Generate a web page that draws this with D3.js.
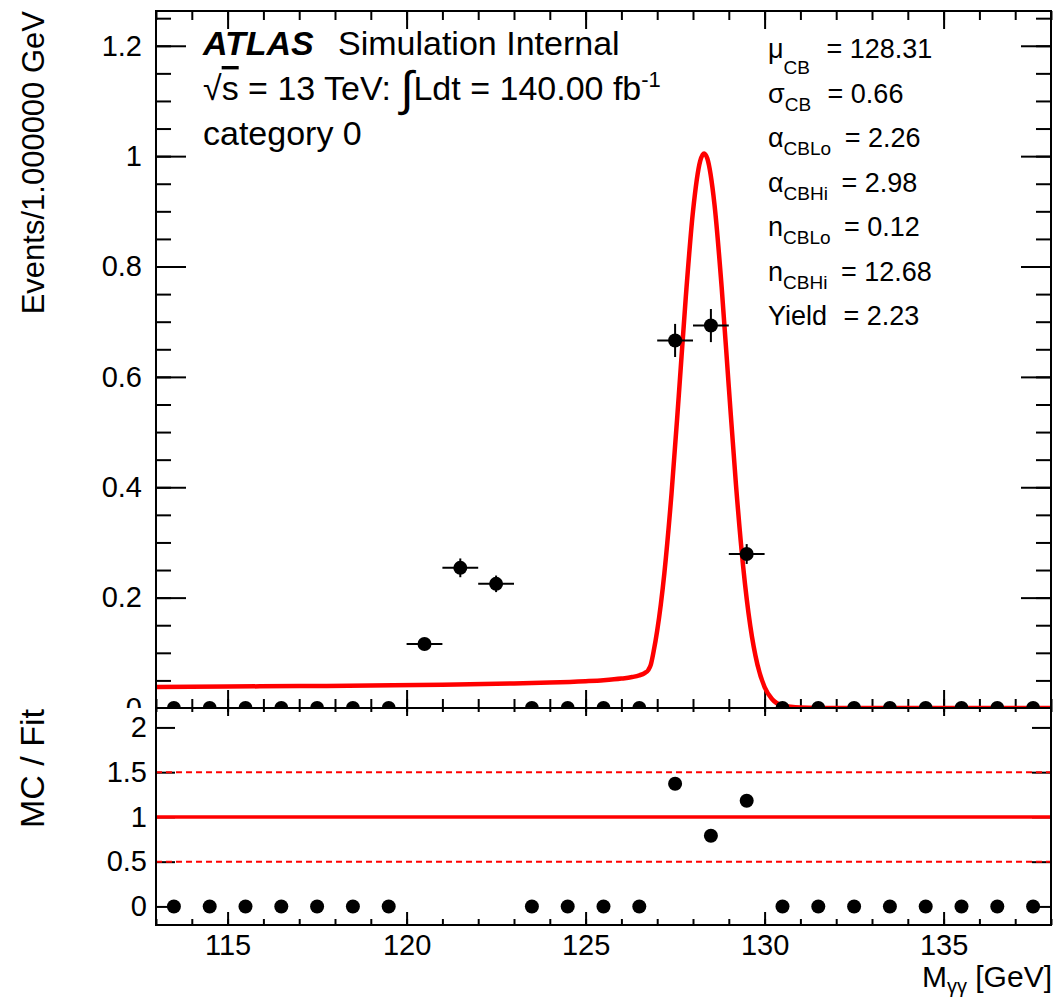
<!DOCTYPE html>
<html>
<head>
<meta charset="utf-8">
<script src="https://d3js.org/d3.v7.min.js"></script>
<style>
  body { margin: 0; background: #fff; }
</style>
</head>
<body>
<svg width="1058" height="997"></svg>
<script>
// 1 GeV bins of the MC histogram
var binCentres = [113.5, 114.5, 115.5, 116.5, 117.5, 118.5, 119.5, 120.5, 121.5, 122.5, 123.5, 124.5, 125.5,
                  126.5, 127.5, 128.5, 129.5, 130.5, 131.5, 132.5, 133.5, 134.5, 135.5, 136.5, 137.5];
var mcValues   = [0, 0, 0, 0, 0, 0, 0, 0.116, 0.254, 0.225, 0, 0, 0,
                  0, 0.666, 0.693, 0.279, 0, 0, 0, 0, 0, 0, 0, 0];
var mcErrors   = [0, 0, 0, 0, 0, 0, 0, 0.011, 0.017, 0.015, 0, 0, 0,
                  0, 0.030, 0.030, 0.018, 0, 0, 0, 0, 0, 0, 0, 0];
var ratioValues = [0, 0, 0, 0, 0, 0, 0, 2.8, 6.0, 5.2, 0, 0, 0,
                   0, 1.37, 0.79, 1.18, 0, 0, 0, 0, 0, 0, 0, 0];

// fitted curve
var fitMass   = [113, 115, 117, 119, 121, 123, 124, 125, 125.5, 126, 126.3, 126.5, 126.65, 126.75, 126.82,
                 126.9, 127.0, 127.1, 127.2, 127.4, 127.6, 127.8, 128.0, 128.2, 128.31, 128.4, 128.6, 128.8,
                 129.0, 129.2, 129.4, 129.6, 129.8, 130.0, 130.2, 130.5, 131.0, 131.5, 132, 138];
var fitValues = [0.0382, 0.0389, 0.0397, 0.0408, 0.0423, 0.0445, 0.0461, 0.0486, 0.0504, 0.0533, 0.0561, 0.0592, 0.0633, 0.0687, 0.0782,
                 0.1025, 0.1402, 0.1872, 0.2443, 0.3885, 0.5635, 0.7456, 0.9001, 0.9911, 1.005, 0.9957, 0.9125, 0.7629,
                 0.5819, 0.4048, 0.2570, 0.1488, 0.0786, 0.0379, 0.0167, 0.0045, 0.0007, 0.0001, 0, 0];

var paramBase  = ["μ", "σ", "α", "α", "n", "n", "Yield"];
var paramSub   = ["CB", "CB", "CBLo", "CBHi", "CBLo", "CBHi", ""];
var paramValue = ["128.31", "0.66", "2.26", "2.98", "0.12", "12.68", "2.23"];

var xTickLabels = [115, 120, 125, 130, 135];
var yTickLabels = [0, 0.2, 0.4, 0.6, 0.8, 1, 1.2];
var rTickLabels = [0, 0.5, 1, 1.5, 2];

var FONT = "'Liberation Sans', Arial, Helvetica, sans-serif";
var left = 156, right = 1051, yTop = 11, yMid = 708, yBot = 925;

var svg = d3.select("svg").attr("font-family", FONT);
svg.append("rect").attr("width", 1058).attr("height", 997).attr("fill", "#fff");

var x  = d3.scaleLinear().domain([113, 138]).range([left, right]);
var y  = d3.scaleLinear().domain([0, 1.263]).range([yMid, yTop]);
var yr = d3.scaleLinear().domain([-0.2075, 2.217]).range([yBot, yMid]);

var defs = svg.append("defs");
defs.append("clipPath").attr("id", "clipTop").append("rect")
    .attr("x", left).attr("y", yTop).attr("width", right - left).attr("height", yMid - yTop);
defs.append("clipPath").attr("id", "clipBot").append("rect")
    .attr("x", left).attr("y", yMid).attr("width", right - left).attr("height", yBot - yMid);
defs.append("clipPath").attr("id", "clipPad").append("rect")
    .attr("x", -200).attr("y", 0).attr("width", 1400).attr("height", yMid);

var fmt = d3.format("~g");

function styleAxis(g, size) {
  g.select(".domain").remove();
  g.attr("font-family", FONT).attr("font-size", size || 29);
  g.selectAll(".tick line").attr("stroke", "#000").attr("stroke-width", 2);
  g.selectAll(".tick text").attr("fill", "#000");
}
function addAxis(parent, axis, tx, ty) {
  var g = parent.append("g").attr("transform", "translate(" + tx + "," + ty + ")").call(axis);
  styleAxis(g);
  return g;
}

var xMinor = d3.range(113, 139, 1);
var yMinor = d3.range(0, 1.26, 0.05);

// ---------- upper pad ----------
var gTop = svg.append("g");

addAxis(gTop, d3.axisBottom(x).tickValues(xMinor).tickSize(-9).tickFormat(""), 0, yMid);
addAxis(gTop, d3.axisBottom(x).tickValues(xTickLabels).tickSize(-18).tickFormat(""), 0, yMid);
addAxis(gTop, d3.axisTop(x).tickValues(xMinor).tickSize(-9).tickFormat(""), 0, yTop);
addAxis(gTop, d3.axisTop(x).tickValues(xTickLabels).tickSize(-18).tickFormat(""), 0, yTop);
addAxis(gTop, d3.axisLeft(y).tickValues(yMinor).tickSize(-15).tickFormat(""), left, 0);
addAxis(gTop.append("g").attr("clip-path", "url(#clipPad)"),
        d3.axisLeft(y).tickValues(yTickLabels).tickSize(-30).tickPadding(14).tickFormat(fmt), left, 0);
addAxis(gTop, d3.axisRight(y).tickValues(yMinor).tickSize(-15).tickFormat(""), right, 0);
addAxis(gTop, d3.axisRight(y).tickValues(yTickLabels).tickSize(-30).tickFormat(""), right, 0);

var line = d3.line()
    .x(function(d, i) { return x(fitMass[i]); })
    .y(function(d) { return y(d); })
    .curve(d3.curveMonotoneX);

gTop.append("path")
    .datum(fitValues)
    .attr("clip-path", "url(#clipTop)")
    .attr("fill", "none")
    .attr("stroke", "#ff0000")
    .attr("stroke-width", 4.5)
    .attr("stroke-linejoin", "round")
    .attr("d", line);

var pts = gTop.append("g").attr("clip-path", "url(#clipTop)");
binCentres.forEach(function(c, i) {
  var cy = y(mcValues[i]);
  pts.append("line").attr("x1", x(c - 0.5)).attr("x2", x(c + 0.5)).attr("y1", cy).attr("y2", cy)
     .attr("stroke", "#000").attr("stroke-width", 2);
  if (mcErrors[i] > 0) {
    pts.append("line").attr("x1", x(c)).attr("x2", x(c))
       .attr("y1", y(mcValues[i] - mcErrors[i])).attr("y2", y(mcValues[i] + mcErrors[i]))
       .attr("stroke", "#000").attr("stroke-width", 2);
  }
  pts.append("circle").attr("cx", x(c)).attr("cy", cy).attr("r", 7).attr("fill", "#000");
});

gTop.append("rect").attr("x", left).attr("y", yTop).attr("width", right - left).attr("height", yMid - yTop)
    .attr("fill", "none").attr("stroke", "#000").attr("stroke-width", 2);

// labels
var t1 = gTop.append("g").attr("font-size", 34).attr("fill", "#000");
t1.append("text").attr("x", 203).attr("y", 55).attr("font-weight", "bold").attr("font-style", "italic").text("ATLAS");
t1.append("text").attr("x", 338).attr("y", 55).text("Simulation Internal");
var l2 = t1.append("text").attr("x", 203).attr("y", 100);
l2.append("tspan").text("√");
l2.append("tspan").attr("text-decoration", "overline").text("s");
l2.append("tspan").text(" = 13 TeV: ");
l2.append("tspan").attr("font-size", 48).attr("dy", 5).text("∫");
l2.append("tspan").attr("dy", -5).text("Ldt = 140.00 fb");
l2.append("tspan").attr("font-size", 22).attr("dy", -13).text("-1");
t1.append("text").attr("x", 203).attr("y", 145).text("category 0");

var tp = gTop.append("g").attr("font-size", 27).attr("fill", "#000");
paramBase.forEach(function(b, i) {
  var t = tp.append("text").attr("x", 768).attr("y", 58 + 44.5 * i);
  t.append("tspan").text(b);
  var shift = i === 0 ? 16 : 8;
  if (paramSub[i]) {
    t.append("tspan").attr("font-size", 19).attr("dy", shift).text(paramSub[i]);
    t.append("tspan").attr("dy", -shift).attr("dx", i < 2 ? 9 : 6).text(" = " + paramValue[i]);
  } else {
    t.append("tspan").attr("dx", 9).text(" = " + paramValue[i]);
  }
});

gTop.append("text").attr("transform", "translate(44,11) rotate(-90)")
    .attr("text-anchor", "end").attr("font-size", 31).attr("fill", "#000")
    .text("Events/1.000000 GeV");

// ---------- ratio pad ----------
svg.append("rect").attr("x", 0).attr("y", yMid).attr("width", 1058).attr("height", 997 - yMid).attr("fill", "#fff");
var gBot = svg.append("g");

addAxis(gBot, d3.axisBottom(x).tickValues(xMinor).tickSize(-6).tickFormat(""), 0, yBot);
addAxis(gBot, d3.axisBottom(x).tickValues(xTickLabels).tickSize(-13).tickPadding(9).tickFormat(fmt), 0, yBot);
addAxis(gBot, d3.axisTop(x).tickValues(xMinor).tickSize(-4).tickFormat(""), 0, yMid);
addAxis(gBot, d3.axisTop(x).tickValues(xTickLabels).tickSize(-8).tickFormat(""), 0, yMid);
addAxis(gBot, d3.axisLeft(yr).tickValues(rTickLabels).tickSize(-19).tickPadding(9).tickFormat(fmt), left, 0);
addAxis(gBot, d3.axisRight(yr).tickValues(rTickLabels).tickSize(-19).tickFormat(""), right, 0);

var refs = [{v: 0.5, dash: "6,4", w: 2}, {v: 1.5, dash: "6,4", w: 2}, {v: 1, dash: null, w: 3.5}];
refs.forEach(function(r) {
  gBot.append("line").attr("x1", left).attr("x2", right).attr("y1", yr(r.v)).attr("y2", yr(r.v))
      .attr("stroke", "#ff0000").attr("stroke-width", r.w).attr("stroke-dasharray", r.dash);
});

gBot.append("g").attr("clip-path", "url(#clipBot)")
    .selectAll("circle").data(ratioValues).join("circle")
    .attr("cx", function(d, i) { return x(binCentres[i]); })
    .attr("cy", function(d) { return yr(d); })
    .attr("r", 7).attr("fill", "#000");

gBot.append("rect").attr("x", left).attr("y", yMid).attr("width", right - left).attr("height", yBot - yMid)
    .attr("fill", "none").attr("stroke", "#000").attr("stroke-width", 2);

gBot.append("text").attr("transform", "translate(44," + (yMid + 1) + ") rotate(-90)")
    .attr("text-anchor", "end").attr("font-size", 34).attr("fill", "#000")
    .text("MC / Fit");

var xt = gBot.append("text").attr("x", 1052).attr("y", 987).attr("text-anchor", "end")
    .attr("font-size", 30).attr("fill", "#000");
xt.append("tspan").text("M");
xt.append("tspan").attr("font-size", 20).attr("dy", 6).text("γγ");
xt.append("tspan").attr("dy", -6).text(" [GeV]");
</script>
</body>
</html>
